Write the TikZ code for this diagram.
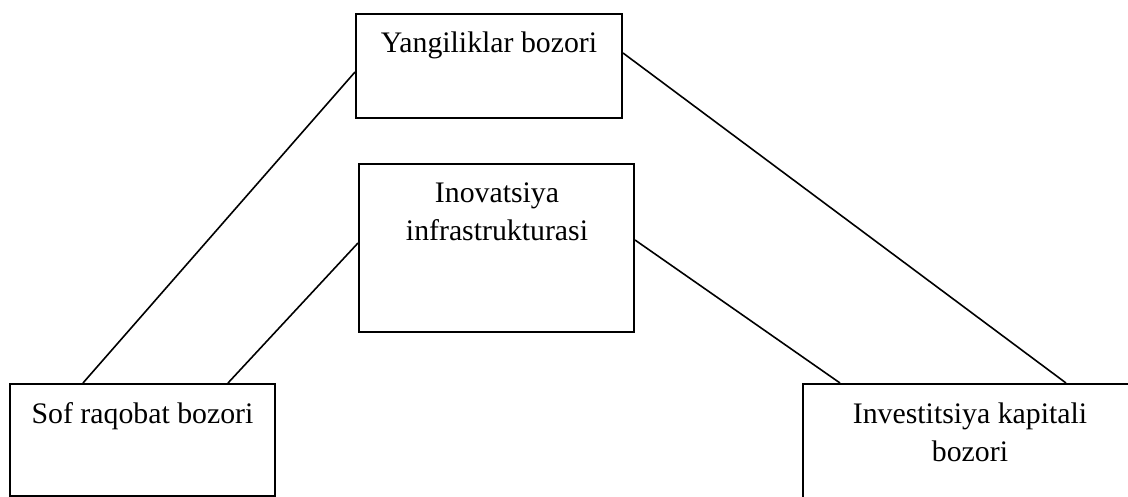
\documentclass[tikz,border=0pt]{standalone}
\usepackage{fontspec}
\setmainfont{Liberation Serif}
\begin{document}
\begin{tikzpicture}[x=1pt,y=-1pt,
  boxshape/.style={draw=black,line width=2pt,rectangle,inner sep=0pt},
  lbl/.style={anchor=base,font=\fontsize{29.8}{35}\selectfont,inner sep=0pt},
  link/.style={draw=black,line width=1.6pt}]
\clip (0,0) rectangle (1128,497);
\fill[white] (0,0) rectangle (1128,497);
\node[boxshape,minimum width=266pt,minimum height=104pt] (top) at (489,66) {};
\node[boxshape,minimum width=275pt,minimum height=168pt] (mid) at (496.5,248) {};
\node[boxshape,minimum width=265pt,minimum height=112pt] (left) at (142.5,440) {};
\node[boxshape,minimum width=334pt,minimum height=140pt] (right) at (970,454) {};
\node[lbl] (t1) at (489,53) {Yangiliklar bozori};
\node[lbl] (m1) at (497,203) {Inovatsiya};
\node[lbl] (m2) at (497,241) {infrastrukturasi};
\node[lbl] (l1) at (142.5,423) {Sof raqobat bozori};
\node[lbl] (r1) at (970,423) {Investitsiya kapitali};
\node[lbl] (r2) at (970,461) {bozori};
\draw[link] (top.west |- 0,72) -- (left.north -| 83,0);
\draw[link] (mid.west |- 0,243) -- (left.north -| 228,0);
\draw[link] (mid.east |- 0,240) -- (right.north -| 840,0);
\draw[link] (top.east |- 0,53) -- (right.north -| 1066,0);
\end{tikzpicture}
\end{document}
